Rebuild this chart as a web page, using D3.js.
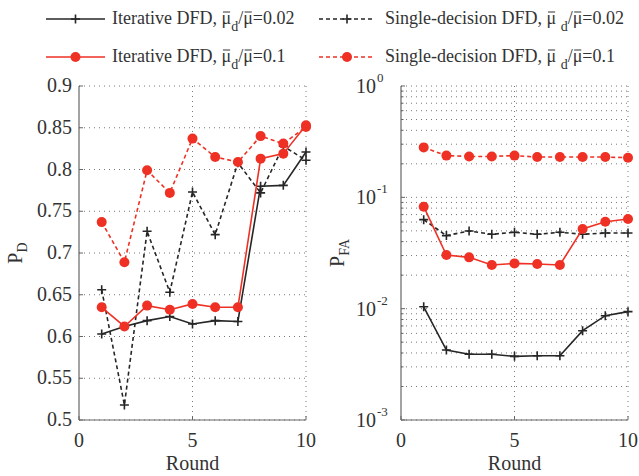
<!DOCTYPE html>
<html>
<head>
<meta charset="utf-8">
<script src="https://cdn.jsdelivr.net/npm/d3@7"></script>
<style>
  body { margin: 0; background: #fff; }
  text { font-family: "Times New Roman", Times, "Liberation Serif", "DejaVu Serif", serif; }
</style>
</head>
<body>
<svg id="chart" width="639" height="476"></svg>
<script>
const rounds = [1, 2, 3, 4, 5, 6, 7, 8, 9, 10];

// P_D values (left panel)
const pdIter002 = [0.603, 0.612, 0.619, 0.624, 0.615, 0.619, 0.618, 0.780, 0.781, 0.821];
const pdSingle002 = [0.656, 0.518, 0.726, 0.653, 0.773, 0.722, 0.808, 0.772, 0.828, 0.811];
const pdIter01 = [0.635, 0.612, 0.637, 0.632, 0.639, 0.635, 0.635, 0.813, 0.819, 0.853];
const pdSingle01 = [0.737, 0.689, 0.799, 0.772, 0.837, 0.815, 0.809, 0.840, 0.831, 0.851];

// P_FA values (right panel)
const pfaIter002 = [0.0104, 0.00425, 0.00389, 0.00389, 0.00373, 0.00378, 0.00378, 0.00634, 0.00865, 0.0094];
const pfaSingle002 = [0.063, 0.0453, 0.0499, 0.0466, 0.0485, 0.0466, 0.0485, 0.0466, 0.0478, 0.0478];
const pfaIter01 = [0.0824, 0.0303, 0.0289, 0.0247, 0.0255, 0.0252, 0.0247, 0.0519, 0.0604, 0.0639];
const pfaSingle01 = [0.281, 0.237, 0.233, 0.233, 0.237, 0.230, 0.230, 0.230, 0.230, 0.227];

const pdTicks = [0.5, 0.55, 0.6, 0.65, 0.7, 0.75, 0.8, 0.85, 0.9];
const xTicks = [0, 5, 10];
const pfaExponents = [-3, -2, -1, 0];

const BLACK = "#262626";
const RED = "#ee3124";
const TEXT = "#333";

const svg = d3.select("#chart");

const series = [
  {name: "Iterative DFD", ratio: "0.02", color: BLACK, dash: null, marker: "plus", pd: pdIter002, pfa: pfaIter002},
  {name: "Single-decision DFD", ratio: "0.02", color: BLACK, dash: "4,3", marker: "plus", pd: pdSingle002, pfa: pfaSingle002},
  {name: "Iterative DFD", ratio: "0.1", color: RED, dash: null, marker: "circle", pd: pdIter01, pfa: pfaIter01},
  {name: "Single-decision DFD", ratio: "0.1", color: RED, dash: "4,3", marker: "circle", pd: pdSingle01, pfa: pfaSingle01}
];

const plotTop = 86, plotBottom = 420;

function drawPanel(opts) {
  const g = svg.append("g");
  const x = d3.scaleLinear().domain([0, 10]).range([opts.x0, opts.x1]);
  const y = opts.y;

  // grid
  g.selectAll(".hgrid").data(opts.gridY).enter().append("line")
    .attr("x1", opts.x0).attr("x2", opts.x1)
    .attr("y1", d => y(d)).attr("y2", d => y(d))
    .attr("stroke", "#777").attr("stroke-width", 1).attr("stroke-dasharray", "1,4");
  g.selectAll(".vgrid").data([5, 10]).enter().append("line")
    .attr("x1", d => x(d)).attr("x2", d => x(d))
    .attr("y1", plotTop).attr("y2", plotBottom)
    .attr("stroke", "#777").attr("stroke-width", 1).attr("stroke-dasharray", "1,4");

  // axis lines
  g.append("line").attr("x1", opts.x0).attr("x2", opts.x0).attr("y1", plotTop).attr("y2", plotBottom)
    .attr("stroke", "#666").attr("stroke-width", 1.2);
  g.append("line").attr("x1", opts.x0).attr("x2", opts.x1).attr("y1", plotBottom).attr("y2", plotBottom)
    .attr("stroke", "#666").attr("stroke-width", 1.2);

  // ticks (inward)
  g.selectAll(".ytick").data(opts.tickY).enter().append("line")
    .attr("x1", opts.x0).attr("x2", opts.x0 + 4)
    .attr("y1", d => y(d)).attr("y2", d => y(d))
    .attr("stroke", "#666");
  if (opts.minorY) {
    g.selectAll(".ymtick").data(opts.minorY).enter().append("line")
      .attr("x1", opts.x0).attr("x2", opts.x0 + 2.5)
      .attr("y1", d => y(d)).attr("y2", d => y(d))
      .attr("stroke", "#666");
  }
  g.selectAll(".xtick").data(xTicks).enter().append("line")
    .attr("x1", d => x(d)).attr("x2", d => x(d))
    .attr("y1", plotBottom).attr("y2", plotBottom - 4)
    .attr("stroke", "#666");

  // x tick labels
  g.selectAll(".xlab").data(xTicks).enter().append("text")
    .attr("x", d => x(d)).attr("y", 447)
    .attr("text-anchor", "middle").attr("font-size", 20).attr("fill", TEXT)
    .text(d => d);
  g.append("text").attr("x", (opts.x0 + opts.x1) / 2).attr("y", 470)
    .attr("text-anchor", "middle").attr("font-size", 20).attr("fill", TEXT).text("Round");

  // series
  series.forEach(s => {
    const vals = s[opts.key];
    const pts = rounds.map((r, i) => [x(r), y(vals[i])]);
    g.append("path").attr("d", d3.line()(pts))
      .attr("fill", "none").attr("stroke", s.color).attr("stroke-width", 1.6)
      .attr("stroke-dasharray", s.dash);
    pts.forEach(p => {
      if (s.marker === "circle") {
        g.append("circle").attr("cx", p[0]).attr("cy", p[1]).attr("r", 5).attr("fill", s.color);
      } else {
        g.append("path").attr("d", `M${p[0]-4.5},${p[1]}H${p[0]+4.5}M${p[0]},${p[1]-4.5}V${p[1]+4.5}`)
          .attr("stroke", s.color).attr("stroke-width", 1.6);
      }
    });
  });
  return g;
}

// left panel
const yPd = d3.scaleLinear().domain([0.5, 0.9]).range([plotBottom, plotTop]);
const leftPanel = drawPanel({x0: 79, x1: 306, y: yPd, key: "pd", gridY: pdTicks, tickY: pdTicks});
leftPanel.selectAll(".ylab").data(pdTicks).enter().append("text")
  .attr("x", 72).attr("y", d => yPd(d) + 6)
  .attr("text-anchor", "end").attr("font-size", 20).attr("fill", TEXT)
  .text(d => d3.format("")(d));
const pdLabel = leftPanel.append("text").attr("transform", "translate(22,253) rotate(-90)")
  .attr("text-anchor", "middle").attr("font-size", 20).attr("fill", TEXT);
pdLabel.append("tspan").text("P");
pdLabel.append("tspan").attr("font-size", 14).attr("dy", 5).text("D");

// right panel
const yPfa = d3.scaleLog().domain([1e-3, 1]).range([plotBottom, plotTop]);
const majors = pfaExponents.map(e => Math.pow(10, e));
const minors = [];
pfaExponents.slice(0, 3).forEach(e => {
  for (let m = 2; m <= 9; m++) minors.push(m * Math.pow(10, e));
});
const rightPanel = drawPanel({x0: 401, x1: 628, y: yPfa, key: "pfa", gridY: majors.concat(minors), tickY: majors, minorY: minors});
pfaExponents.forEach(e => {
  rightPanel.append("text").attr("x", 376).attr("y", yPfa(Math.pow(10, e)) + 7)
    .attr("text-anchor", "end").attr("font-size", 20).attr("fill", TEXT).text("10");
  rightPanel.append("text").attr("x", 377).attr("y", yPfa(Math.pow(10, e)) - 4)
    .attr("text-anchor", "start").attr("font-size", 13).attr("fill", TEXT).text(e === 0 ? "0" : e);
});
const pfaLabel = rightPanel.append("text").attr("transform", "translate(344,253) rotate(-90)")
  .attr("text-anchor", "middle").attr("font-size", 20).attr("fill", TEXT);
pfaLabel.append("tspan").text("P");
pfaLabel.append("tspan").attr("font-size", 14).attr("dy", 5).text("FA");

// legend
const legendPos = [
  {x1: 46, x2: 105, tx: 112, y: 19},
  {x1: 319, x2: 375, tx: 385, y: 19},
  {x1: 46, x2: 105, tx: 112, y: 57},
  {x1: 319, x2: 375, tx: 385, y: 57}
];
const lg = svg.append("g");
series.forEach((s, i) => {
  const p = legendPos[i];
  const mx = (p.x1 + p.x2) / 2;
  lg.append("line").attr("x1", p.x1).attr("x2", p.x2).attr("y1", p.y).attr("y2", p.y)
    .attr("stroke", s.color).attr("stroke-width", 1.6).attr("stroke-dasharray", s.dash);
  if (s.marker === "circle") {
    lg.append("circle").attr("cx", mx).attr("cy", p.y).attr("r", 5).attr("fill", s.color);
  } else {
    lg.append("path").attr("d", `M${mx-4.5},${p.y}H${mx+4.5}M${mx},${p.y-4.5}V${p.y+4.5}`)
      .attr("stroke", s.color).attr("stroke-width", 1.6);
  }
  const single = s.name.startsWith("Single");
  const baseline = p.y + 5;
  const t = lg.append("text").attr("x", p.tx).attr("y", baseline).attr("font-size", 18).attr("fill", TEXT);
  const prefix = s.name + ", ";
  t.append("tspan").text(prefix + "\u03bc" + (single ? " " : ""));
  t.append("tspan").attr("font-size", 14).attr("dy", 7).text("d");
  t.append("tspan").attr("dy", -7).text("/\u03bc=" + s.ratio);

  // macrons over both mu characters
  const node = t.node();
  const full = node.textContent;
  [prefix.length, full.indexOf("/\u03bc") + 1].forEach(ci => {
    const box = node.getExtentOfChar(ci);
    lg.append("line")
      .attr("x1", box.x + 1.5).attr("x2", box.x + box.width - 1)
      .attr("y1", baseline - 12).attr("y2", baseline - 12)
      .attr("stroke", TEXT).attr("stroke-width", 1);
  });
});
</script>
</body>
</html>
